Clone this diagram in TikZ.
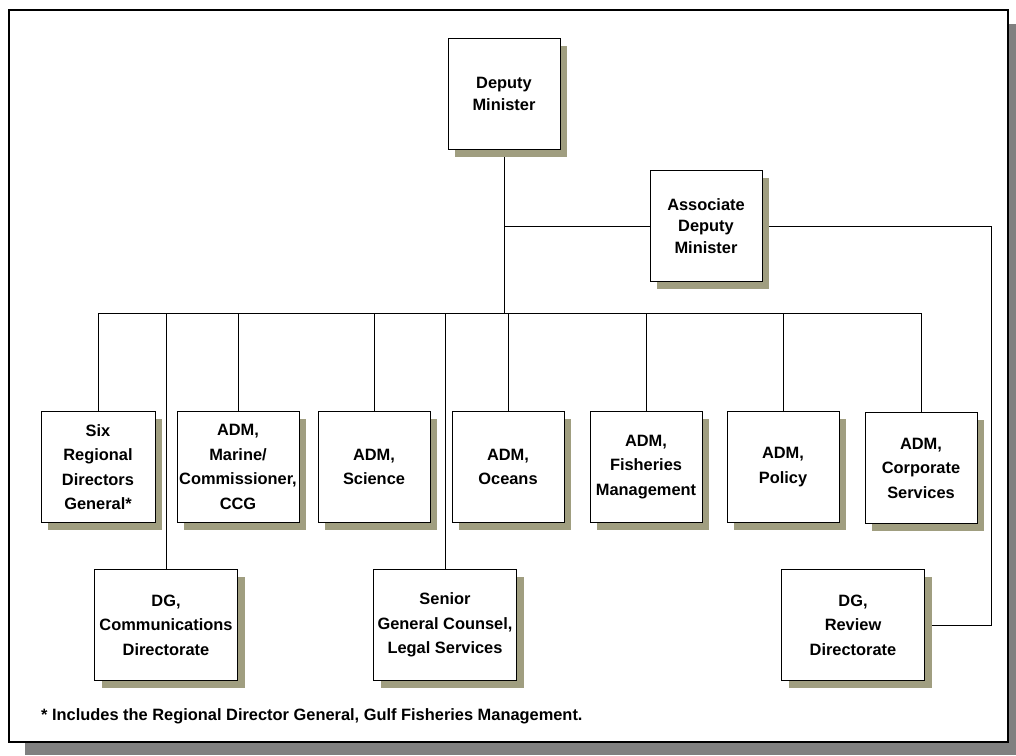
\documentclass[tikz,border=0pt]{standalone}
\usepackage{fontspec}
\setmainfont{Liberation Sans}
\usetikzlibrary{positioning, shadows, backgrounds}
\definecolor{boxshadow}{RGB}{160,158,128}
\definecolor{frameshadow}{RGB}{128,128,128}

\begin{document}
\begin{tikzpicture}[x=1pt, y=-1pt,
    unit/.style={draw, line width=1pt, fill=white, align=center, inner sep=0pt,
      font=\bfseries\fontsize{16.4}{24.5}\selectfont, minimum width=112pt, minimum height=111pt,
      drop shadow={shadow xshift=7pt, shadow yshift=-7pt, fill=boxshadow, opacity=1}},
    top/.style={unit, font=\bfseries\fontsize{16.4}{21.5}\selectfont},
    wide/.style={unit, minimum width=143pt},
    link/.style={line width=1pt}]
    \useasboundingbox (0,0) rectangle (1016,755);

    % the two ministers
    \node[top] (dm) at (504,94) {Deputy\\Minister};
    \node[top] (ad) at (706,226) {Associate\\Deputy\\Minister};

    % where the branches meet
    \coordinate (bus) at (0,313);
    \coordinate (rail) at (991,0);

    % the first row of branches
    \node[unit, minimum width=114pt] (srdg) at (98,467) {Six\\Regional\\Directors\\General*};
    \node[unit, minimum width=122pt] (marine) at (238,467) {ADM,\\Marine/\\Commissioner,\\CCG};
    \node[unit] (sci) at (374,467) {ADM,\\Science};
    \node[unit] (oce) at (508,467) {ADM,\\Oceans};
    \node[unit] (fish) at (646,467) {ADM,\\Fisheries\\Management};
    \node[unit] (pol) at (783,467) {ADM,\\Policy};
    \node[unit] (corp) at (921,468) {ADM,\\Corporate\\Services};

    % the second row
    \node[wide] (comm) at (166,625) {DG,\\Communications\\Directorate};
    \node[wide] (counsel) at (445,625) {Senior\\General Counsel,\\Legal Services};
    \node[wide] (rev) at (853,625) {DG,\\Review\\Directorate};

    % footnote
    \node[anchor=base west, inner sep=0pt, font=\bfseries\fontsize{16.4}{18}\selectfont] (note) at (41,720)
      {* Includes the Regional Director General, Gulf Fisheries Management.};

    \begin{scope}[on background layer]
      % draw the frame and its shadow
      \fill[frameshadow] (25,24) rectangle (1016,755);
      \draw[line width=2pt, fill=white] (9,10) rectangle (1008,742);

      % draw the lines
      \draw[link] (dm.south) -- (dm.south |- bus);
      \draw[link] (srdg.north |- bus) -- (corp.north |- bus);
      \foreach \n in {srdg, marine, sci, oce, fish, pol, corp, comm, counsel}
        \draw[link] (\n.north) -- (\n.north |- bus);
      \draw[link] (ad.west) -- (ad.west -| dm.south);
      \draw[link] (ad.east) -| (rail |- rev.east) -- (rev.east);
    \end{scope}
\end{tikzpicture}
\end{document}
